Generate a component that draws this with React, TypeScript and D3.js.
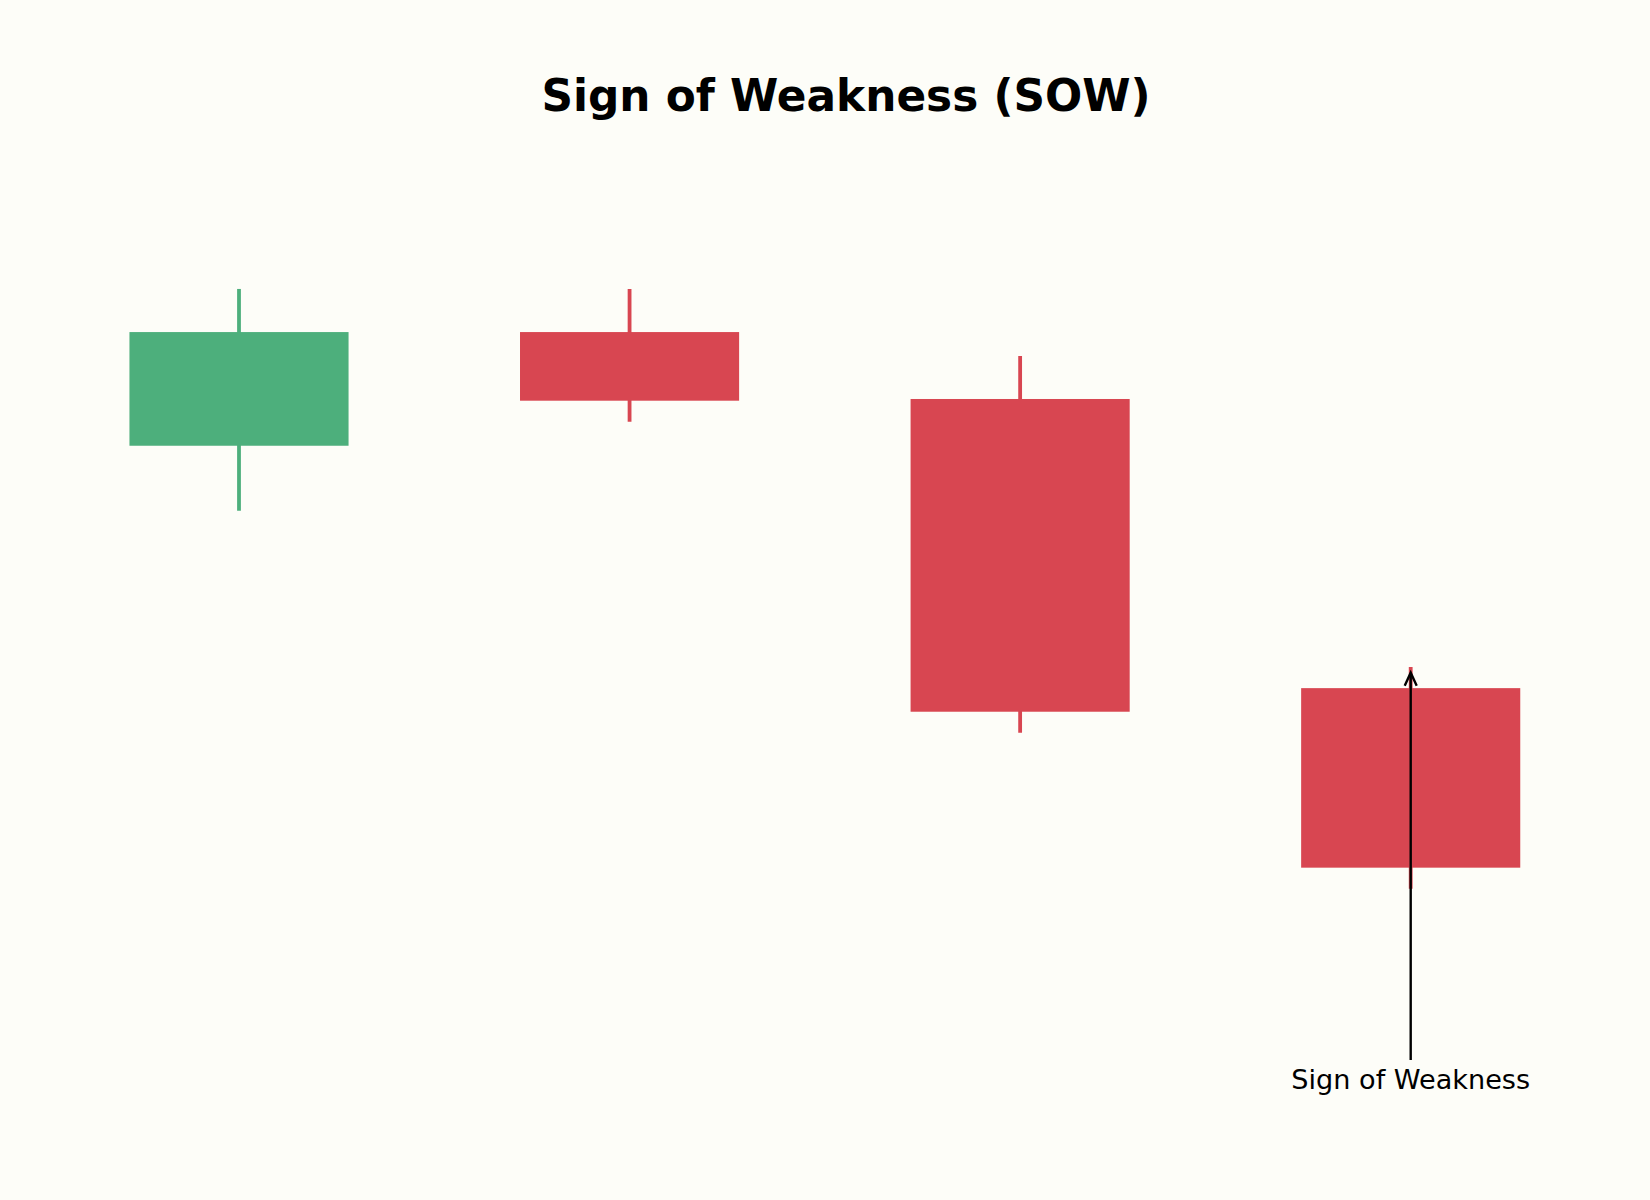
import { useEffect, useRef } from 'react';
import * as d3 from 'd3';

// Candle data
const bars = ['c1', 'c2', 'c3', 'c4'];
const opens = [100.0, 105.3, 102.18, 88.7];
const closes = [105.3, 102.1, 87.6, 80.33];
const highs = [107.31, 107.31, 104.18, 89.68];
const lows = [96.97, 101.12, 86.62, 79.35];

const title = 'Sign of Weakness (SOW)';
const noteText = 'Sign of Weakness';
const noteBar = 'c4';
const noteValue = 89.42;
const noteTailValue = 71.36;
const noteTextValue = 70.03;

const W = 1650;
const H = 1200;
const BG = '#fdfdf8';
const UP = '#4daf7c';
const DOWN = '#d84651';

export default function App() {
  const svgRef = useRef<SVGSVGElement>(null);

  useEffect(() => {
    if (!svgRef.current) return;
    const svg = d3.select(svgRef.current);
    svg.selectAll('*').remove();

    const x = d3.scalePoint<string>().domain(bars).range([239, 1410.7]);
    const step = x.step();
    const bodyW = step * 0.561;
    const y = d3.scaleLinear().domain([75, 115]).range([982, 124]);

    svg.append('rect').attr('width', W).attr('height', H).attr('fill', BG);

    // title
    svg
      .append('text')
      .attr('x', 846)
      .attr('y', 111)
      .attr('text-anchor', 'middle')
      .attr('font-family', 'DejaVu Sans')
      .attr('font-weight', 'bold')
      .attr('font-size', 43.8)
      .attr('fill', '#000')
      .text(title);

    const data = bars.map((b, i) => ({
      key: b,
      open: opens[i],
      close: closes[i],
      high: highs[i],
      low: lows[i],
    }));

    const g = svg.append('g');
    const color = (d: (typeof data)[number]) => (d.close >= d.open ? UP : DOWN);

    // wicks
    g.selectAll('line.wick')
      .data(data)
      .join('line')
      .attr('class', 'wick')
      .attr('x1', (d) => x(d.key)!)
      .attr('x2', (d) => x(d.key)!)
      .attr('y1', (d) => y(d.high))
      .attr('y2', (d) => y(d.low))
      .attr('stroke', color)
      .attr('stroke-width', 3.8);

    // bodies
    g.selectAll('rect.body')
      .data(data)
      .join('rect')
      .attr('class', 'body')
      .attr('x', (d) => x(d.key)! - bodyW / 2)
      .attr('width', bodyW)
      .attr('y', (d) => y(Math.max(d.open, d.close)))
      .attr('height', (d) => Math.abs(y(d.open) - y(d.close)))
      .attr('fill', color);

    // annotation arrow
    const ax = x(noteBar)!;
    const tipY = y(noteValue);
    svg
      .append('line')
      .attr('x1', ax)
      .attr('x2', ax)
      .attr('y1', y(noteTailValue))
      .attr('y2', tipY + 1)
      .attr('stroke', '#000')
      .attr('stroke-width', 2.4);
    svg
      .append('path')
      .attr('d', `M${ax - 6},${tipY + 13} L${ax},${tipY} L${ax + 6},${tipY + 13}`)
      .attr('fill', 'none')
      .attr('stroke', '#000')
      .attr('stroke-width', 2.4);

    svg
      .append('text')
      .attr('x', ax)
      .attr('y', y(noteTextValue))
      .attr('text-anchor', 'middle')
      .attr('font-family', 'DejaVu Sans')
      .attr('font-size', 27.1)
      .attr('fill', '#000')
      .text(noteText);
  }, []);

  return (
    <svg
      ref={svgRef}
      width={W}
      height={H}
      style={{ position: 'absolute', left: 0, top: 0 }}
    />
  );
}
